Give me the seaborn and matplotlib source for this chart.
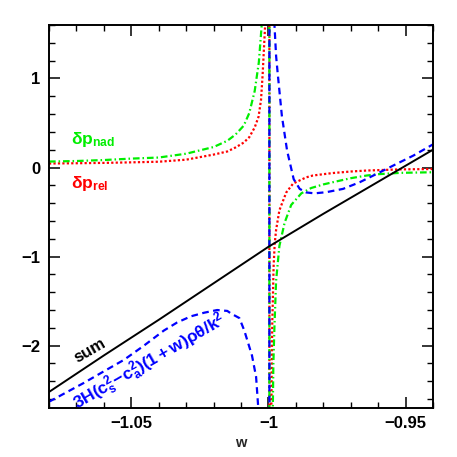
import matplotlib
matplotlib.use('Agg')
import matplotlib.pyplot as plt
import seaborn as sns
from matplotlib.ticker import MultipleLocator

# ---- data ----
w_sum = [-1.08, -1.06, -1.04, -1.02, -1.00, -0.98, -0.96, -0.94]
p_sum = [-2.52, -2.11, -1.71, -1.30, -0.89, -0.52, -0.16, 0.20]

w_nad = [-1.08, -1.07, -1.06, -1.05, -1.04, -1.03, -1.02, -1.015, -1.012, -1.009,
         -1.007, -1.005, -1.0035, -1.0025, -1.0015, -0.9997,
         -0.9996, -0.9988, -0.9982, -0.9978, -0.9972, -0.9960, -0.9941, -0.9917,
         -0.9880, -0.9844, -0.9800, -0.9765, -0.9700, -0.9642, -0.9600, -0.9520, -0.9400]
p_nad = [0.067, 0.073, 0.084, 0.10, 0.112, 0.155, 0.23, 0.30, 0.37, 0.47,
         0.61, 0.86, 1.18, 1.58, 2.6, 40,
         -40, -3.7, -2.2, -1.78, -1.27, -0.88, -0.62, -0.42,
         -0.29, -0.23, -0.19, -0.165, -0.12, -0.09, -0.075, -0.06, -0.053]

w_rel = [-1.08, -1.07, -1.06, -1.05, -1.04, -1.03, -1.02, -1.015, -1.012, -1.009,
         -1.007, -1.005, -1.0036, -1.0027, -1.0021, -1.0012, -1.0005, -0.9997,
         -0.9996, -0.9990, -0.9986, -0.9981, -0.9977, -0.9972, -0.9960, -0.9935,
         -0.9910, -0.9862, -0.9838, -0.9800, -0.9765, -0.9700, -0.9642, -0.9520, -0.9400]
p_rel = [0.045, 0.048, 0.052, 0.058, 0.065, 0.088, 0.145, 0.18, 0.225, 0.28,
         0.34, 0.45, 0.57, 0.76, 1.05, 1.6, 3.0, 40,
         -40, -2.9, -1.75, -1.1, -0.85, -0.70, -0.48, -0.28,
         -0.18, -0.11, -0.09, -0.075, -0.062, -0.045, -0.034, -0.021, -0.017]

w_the = [-1.08, -1.0674, -1.0601, -1.0527, -1.0454, -1.0381, -1.0333, -1.0282, -1.0234,
         -1.0187, -1.0150, -1.0136, -1.0106, -1.0088, -1.0060, -1.0045, -1.0037, -1.0030, -0.9997,
         -0.9996, -0.9985, -0.9978, -0.9972, -0.9966, -0.9951, -0.9932, -0.9908, -0.9886,
         -0.9862, -0.9832, -0.9789, -0.9728, -0.9667, -0.9605, -0.9545, -0.9471, -0.9400]
p_the = [-2.63, -2.42, -2.29, -2.16, -2.00, -1.83, -1.74, -1.67, -1.63,
         -1.60, -1.61, -1.64, -1.69, -1.83, -2.11, -2.35, -2.70, -10, -40,
         40, 5.0, 1.6, 1.25, 1.05, 0.58, 0.19, -0.13, -0.24,
         -0.28, -0.29, -0.277, -0.24, -0.165, -0.071, 0.022, 0.135, 0.26]

x_ticks = [-1.05, -1.0, -0.95]
x_tick_labels = ['\u22121.05', '\u22121', '\u22120.95']
y_ticks = [-2, -1, 0, 1]
y_tick_labels = ['\u22122', '\u22121', '0', '1']

label_nad = r'$\delta p_{nad}$'
label_rel = r'$\delta p_{rel}$'
label_sum = 'sum'
label_the = r'$3H(c_s^2\!-\!c_a^2)(1+w)\rho\theta/k^2$'
x_label = 'w'

# ---- style ----
sns.set_style('ticks')
plt.rcParams['font.family'] = ['Liberation Sans', 'DejaVu Sans']
plt.rcParams['mathtext.fontset'] = 'custom'
plt.rcParams['mathtext.rm'] = 'Liberation Sans:bold'
plt.rcParams['mathtext.bf'] = 'Liberation Sans:bold'
plt.rcParams['mathtext.it'] = 'Liberation Sans:bold:italic'
plt.rcParams['mathtext.default'] = 'bf'

GREEN = '#00ee00'
RED = '#ff0000'
BLUE = '#0000ff'

fig = plt.figure(figsize=(4.57, 4.57), dpi=100)
ax = fig.add_axes([0.1072, 0.1072, 0.8403, 0.8381])

sns.lineplot(x=w_rel, y=p_rel, ax=ax, color=RED, linewidth=1.6,
             linestyle=(0, (1, 1)), sort=False, estimator=None)
sns.lineplot(x=w_nad, y=p_nad, ax=ax, color=GREEN, linewidth=1.6,
             linestyle=(0, (3, 1.3, 0.7, 1.3)), sort=False, estimator=None)
sns.lineplot(x=w_the, y=p_the, ax=ax, color=BLUE, linewidth=1.6,
             linestyle=(0, (3, 2)), sort=False, estimator=None)
sns.lineplot(x=w_sum, y=p_sum, ax=ax, color='black', linewidth=1.4,
             sort=False, estimator=None)

ax.set_xlim(-1.08, -0.94)
ax.set_ylim(-2.7, 1.6)

ax.set_xticks(x_ticks)
ax.set_xticklabels(x_tick_labels)
ax.set_yticks(y_ticks)
ax.set_yticklabels(y_tick_labels)
ax.xaxis.set_minor_locator(MultipleLocator(0.01))
ax.yaxis.set_minor_locator(MultipleLocator(0.2))

ax.tick_params(which='both', direction='in', top=True, right=True, colors='black')
ax.tick_params(which='major', length=8, width=1.1, labelsize=12)
ax.tick_params(which='minor', length=4, width=1.0)
ax.tick_params(axis='x', which='major', pad=6)
ax.tick_params(axis='y', which='major', pad=6)
for lbl in ax.get_xticklabels() + ax.get_yticklabels():
    lbl.set_fontweight('bold')
for sp in ax.spines.values():
    sp.set_linewidth(1.4)
    sp.set_color('black')

ax.set_xlabel(x_label, fontsize=10.5, fontweight='bold', labelpad=3)
ax.set_ylabel('')

ax.text(-1.0721, 0.26, label_nad, color=GREEN, fontsize=12.5, ha='left', va='baseline')
ax.text(-1.0721, -0.225, label_rel, color=RED, fontsize=12.5, ha='left', va='baseline')
ax.text(-1.0650, -2.056, label_sum, color='black', fontsize=12, fontweight='bold',
        rotation=30, ha='center', va='center', rotation_mode='anchor')
ax.text(-1.0432, -2.19, label_the, color=BLUE, fontsize=12.5,
        rotation=30, ha='center', va='center', rotation_mode='anchor')

fig.savefig('out.png', dpi=100)
